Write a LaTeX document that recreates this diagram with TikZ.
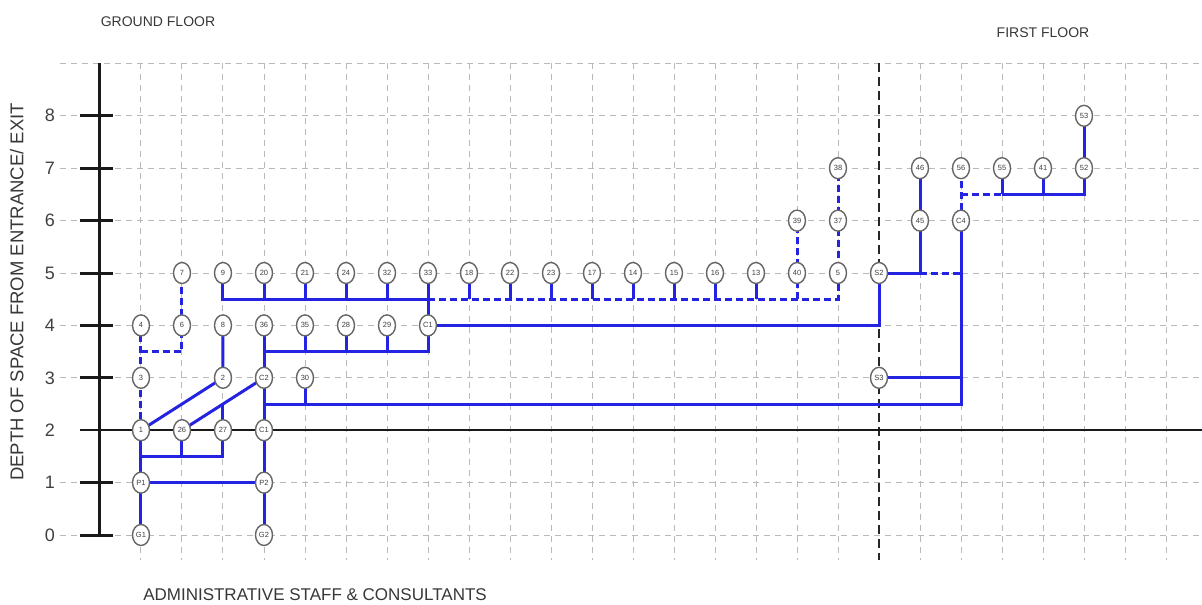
\documentclass[tikz,border=0pt]{standalone}
\usepackage{fontspec}
\setmainfont{Liberation Sans}
\usetikzlibrary{shapes.geometric,backgrounds}
\definecolor{bl}{RGB}{35,35,225}
\definecolor{gridc}{RGB}{185,185,185}
\definecolor{txt}{RGB}{55,55,55}
\begin{document}
\begin{tikzpicture}[x=41pt,y=52.4pt,
  gridl/.style={draw=gridc, line width=1pt, dash pattern=on 6pt off 5pt},
  bline/.style={draw=bl, line width=3pt},
  bdash/.style={bline, dash pattern=on 7pt off 4pt},
  axisl/.style={draw=black!90, line width=3pt},
  room/.style={ellipse, draw=black!60, line width=1.4pt, fill=white,
    minimum width=17pt, minimum height=21pt, inner sep=0pt,
    font=\fontsize{7.5}{8}\selectfont, text=black!75},
  title/.style={font=\fontsize{14}{16}\selectfont, text=txt},
  num/.style={font=\fontsize{18}{20}\selectfont, text=black!75}
]
\useasboundingbox (-3.439,-1.3168) rectangle (25.878,10.210);
% nodes
\node[room] (nG1) at (0,0) {G1};
\node[room] (nG2) at (3,0) {G2};
\node[room] (nP1) at (0,1) {P1};
\node[room] (nP2) at (3,1) {P2};
\node[room] (n1) at (0,2) {1};
\node[room] (n26) at (1,2) {26};
\node[room] (n27) at (2,2) {27};
\node[room] (nC1) at (3,2) {C1};
\node[room] (n3) at (0,3) {3};
\node[room] (n2) at (2,3) {2};
\node[room] (nC2) at (3,3) {C2};
\node[room] (n30) at (4,3) {30};
\node[room] (nS3) at (18,3) {S3};
\node[room] (n4) at (0,4) {4};
\node[room] (n6) at (1,4) {6};
\node[room] (n8) at (2,4) {8};
\node[room] (n36) at (3,4) {36};
\node[room] (n35) at (4,4) {35};
\node[room] (n28) at (5,4) {28};
\node[room] (n29) at (6,4) {29};
\node[room] (nC3) at (7,4) {C1};
\foreach \l/\c in {7/1,9/2,20/3,21/4,24/5,32/6,33/7,18/8,22/9,23/10,17/11,14/12,15/13,16/14,13/15,40/16,5/17}
  \node[room] (n\l) at (\c,5) {\l};
\node[room] (nS2) at (18,5) {S2};
\node[room] (n39) at (16,6) {39};
\node[room] (n37) at (17,6) {37};
\node[room] (n45) at (19,6) {45};
\node[room] (nC4) at (20,6) {C4};
\node[room] (n38) at (17,7) {38};
\node[room] (n46) at (19,7) {46};
\node[room] (n56) at (20,7) {56};
\node[room] (n55) at (21,7) {55};
\node[room] (n41) at (22,7) {41};
\node[room] (n52) at (23,7) {52};
\node[room] (n53) at (23,8) {53};
% labels
\node[title, anchor=center] (tg) at (0.415,9.79) {GROUND FLOOR};
\node[title, anchor=center] (tf) at (22.0,9.58) {FIRST FLOOR};
\node[font=\fontsize{17}{19}\selectfont, text=txt] (ta) at (4.244,-1.145) {ADMINISTRATIVE STAFF \& CONSULTANTS};
\node[font=\fontsize{18.5}{20}\selectfont, text=txt, rotate=90] (ty) at (-3.03,4.637) {DEPTH OF SPACE FROM ENTRANCE/ EXIT};
\foreach \k in {0,...,8} \node[num] (lab\k) at (-2.22,\k) {\k};
\begin{scope}[on background layer]
  % grid
  \foreach \k in {0,1,3,4,5,6,7,8,9} \draw[gridl] (-1.976,\k) -- (25.88,\k);
  \foreach \c in {0,...,17,19,20,...,25} \draw[gridl] (\c,9) -- (\c,-0.477);
  \draw[draw=black!85, line width=2.2pt, dash pattern=on 9pt off 5pt] (18,9) -- (18,-0.477);
  % axis
  \draw[axisl] (-1,0) -- (-1,9);
  \foreach \k in {0,1,3,4,5,6,7,8} \draw[axisl] (-1.488,\k) -- (-0.683,\k);
  \draw[draw=black!90, line width=2.4pt] (-1.488,2) -- (25.88,2);
  % connectors
  \draw[bline] (nG1.center) -- (nP1.center) -- (n1.center);
  \draw[bline] (n1.center) |- (2,1.5) -- (n27.center);
  \draw[bline] (n26.center) -- (1,1.5);
  \draw[bline] (nP1.center) -- (nP2.center);
  \draw[bline] (nG2.center) -- (nP2.center) -- (nC1.center) -- (nC2.center) -- (n36.center);
  \draw[bline] (n1.center) -- (n2.center) -- (n8.center);
  \draw[bline] (n26.center) -- (nC2.center);
  \draw[bline] (n27.center) -- (2,2.5);
  \draw[bline] (3,3.5) -| (nC3.center);
  \foreach \n/\c in {35/4,28/5,29/6} \draw[bline] (n\n.center) -- (\c,3.5);
  \draw[bline] (3,2.5) -| (nC4.center);
  \draw[bline] (n30.center) -- (4,2.5);
  \draw[bline] (nS3.center) -- (20,3);
  \draw[bdash] (n1.center) -- (n3.center) -- (n4.center);
  \draw[bdash] (0,3.5) -| (n6.center) -- (n7.center);
  \draw[bline] (n9.center) |- (7,4.5);
  \foreach \n/\c in {20/3,21/4,24/5,32/6} \draw[bline] (n\n.center) -- (\c,4.5);
  \draw[bline] (n33.center) -- (nC3.center);
  \draw[bdash] (7,4.5) -| (n5.center) -- (n37.center) -- (n38.center);
  \foreach \n/\c in {18/8,22/9,23/10,17/11,14/12,15/13,16/14,13/15} \draw[bline] (n\n.center) -- (\c,4.5);
  \draw[bdash] (16,4.5) -- (n40.center) -- (n39.center);
  \draw[bline] (nC3.center) -| (nS2.center);
  \draw[bline] (nS2.center) -- (19,5);
  \draw[bdash] (19,5) -- (20,5);
  \draw[bline] (19,5) -- (n45.center) -- (n46.center);
  \draw[bdash] (nC4.center) -- (n56.center);
  \draw[bdash] (20,6.5) -- (21,6.5);
  \draw[bline] (21,6.5) -| (n52.center) -- (n53.center);
  \draw[bline] (n55.center) -- (21,6.5);
  \draw[bline] (n41.center) -- (22,6.5);
\end{scope}
\end{tikzpicture}
\end{document}
